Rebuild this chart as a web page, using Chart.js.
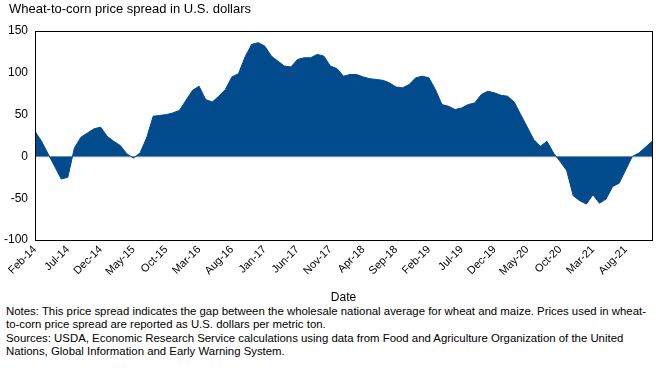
<!DOCTYPE html>
<html>
<head>
<meta charset="utf-8">
<script src="https://cdn.jsdelivr.net/npm/chart.js@4.4.1/dist/chart.umd.min.js"></script>
<style>
    body { margin: 0; background: #fff; font-family: "Liberation Sans", Arial, sans-serif; }
    #wrap { position: relative; width: 659px; height: 368px; overflow: hidden; }
    #subtitle { position: absolute; left: 9px; top: 1px; font-size: 13px; color: #000; }
    #chartBox { position: absolute; left: 0; top: 0; width: 659px; height: 305px; }
    #notes { position: absolute; left: 6px; top: 305px; width: 650px; font-size: 11.4px; line-height: 13.4px; color: #000; }
</style>
</head>
<body>
<div id="wrap">
    <div id="chartBox"><canvas id="spreadChart"></canvas></div>
    <div id="subtitle">Wheat-to-corn price spread in U.S. dollars</div>
    <div id="notes">
        Notes: This price spread indicates the gap between the wholesale national average for wheat and maize. Prices used in wheat-to-corn price spread are reported as U.S. dollars per metric ton.<br>
        Sources: USDA, Economic Research Service calculations using data from Food and Agriculture Organization of the United Nations, Global Information and Early Warning System.
    </div>
</div>
<script>
// Months Feb-14 .. Dec-21
const monthNames = ['Jan', 'Feb', 'Mar', 'Apr', 'May', 'Jun', 'Jul', 'Aug', 'Sep', 'Oct', 'Nov', 'Dec'];
const months = [];
for (let y = 14; y <= 21; y++) {
    for (let m = 0; m < 12; m++) {
        if (y === 14 && m < 1) continue;
        months.push(monthNames[m] + '-' + y);
    }
}

// Wheat-to-corn spread, U.S. dollars per metric ton
const spread = [
    30, 18, 3, -12, -27, -25, 10, 23, 28, 33, 35, 24,
    18, 13, 3, -2, 4, 22, 48, 49, 50, 52, 55, 67,
    79, 84, 68, 65, 72, 80, 95, 99, 119, 134, 136, 132,
    120, 114, 108, 107, 116, 118, 118, 122, 120, 108, 105, 96,
    98, 98, 95, 93, 92, 91, 88, 83, 82, 86, 94, 96,
    94, 80, 62, 60, 56, 58, 62, 64, 74, 78, 76, 73,
    72, 65, 50, 35, 20, 12, 18, 4, -6, -17, -47, -53,
    -57, -46, -56, -51, -36, -32, -16, 0, 4, 11, 18
];

// Y axis tick labels
const yTicks = [-100, -50, 0, 50, 100, 150];

const boxPlugin = {
    id: 'plotBox',
    afterDraw(chart) {
        const a = chart.chartArea;
        const ctx = chart.ctx;
        ctx.save();
        ctx.strokeStyle = '#000';
        ctx.lineWidth = 1;
        ctx.strokeRect(Math.round(a.left) + 0.5, Math.round(a.top) + 0.5,
            Math.round(a.right - a.left), Math.round(a.bottom - a.top));
        ctx.restore();
    }
};

const ctx = document.getElementById('spreadChart').getContext('2d');
new Chart(ctx, {
    type: 'line',
    data: {
        labels: months,
        datasets: [{
            data: spread,
            fill: 'origin',
            backgroundColor: '#014b8c',
            borderColor: '#014b8c',
            borderWidth: 1,
            pointRadius: 0,
            tension: 0
        }]
    },
    options: {
        responsive: true,
        maintainAspectRatio: false,
        animation: false,
        layout: { padding: { top: 31, right: 7, left: 0, bottom: 0 } },
        plugins: {
            legend: { display: false },
            tooltip: { enabled: false }
        },
        scales: {
            x: {
                type: 'category',
                offset: false,
                grid: { display: false, drawTicks: false },
                border: { display: false },
                afterFit: function(scale) { scale.height = 65; },
                ticks: {
                    autoSkip: false,
                    maxRotation: 45,
                    minRotation: 45,
                    padding: 3,
                    color: '#000',
                    font: { family: 'Liberation Sans', size: 11 },
                    callback: function(val, i) {
                        return i % 5 === 0 ? months[i] : null;
                    }
                },
                title: {
                    display: true,
                    text: 'Date',
                    color: '#000',
                    font: { family: 'Liberation Sans', size: 12 },
                    padding: { top: 0, bottom: 0 }
                }
            },
            y: {
                min: -100,
                max: 150,
                z: 1,
                afterFit: function(scale) { scale.width = 35; },
                afterBuildTicks: function(scale) {
                    scale.ticks = yTicks.map(v => ({ value: v }));
                },
                border: { display: false },
                grid: {
                    drawTicks: false,
                    color: c => c.tick && c.tick.value === 0 ? '#d4d4d4' : 'rgba(0,0,0,0)',
                    lineWidth: 1.5
                },
                ticks: {
                    padding: 7,
                    color: '#000',
                    font: { family: 'Liberation Sans', size: 12 }
                }
            }
        }
    },
    plugins: [boxPlugin]
});
</script>
</body>
</html>
